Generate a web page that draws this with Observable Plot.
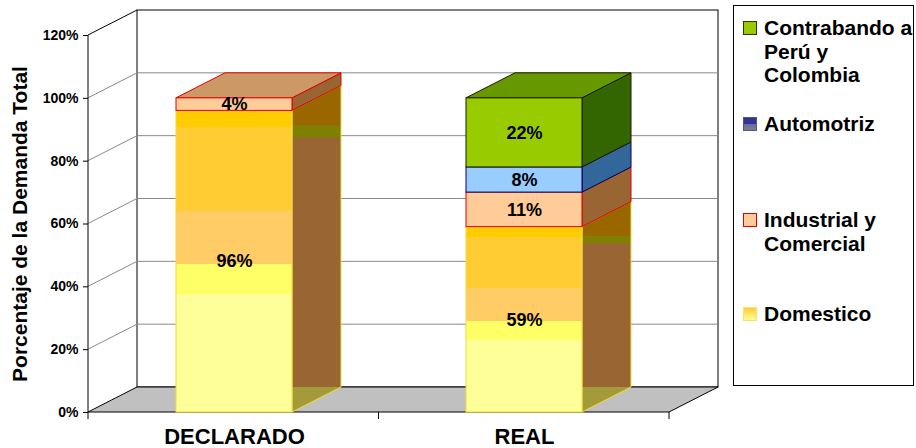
<!DOCTYPE html>
<html>
<head>
<meta charset="utf-8">
<script src="https://cdn.jsdelivr.net/npm/d3@7"></script>
<script src="https://cdn.jsdelivr.net/npm/@observablehq/plot@0.6"></script>
<style>
  html, body { margin: 0; padding: 0; background: #fff; }
  #chart svg { display: block; }
</style>
</head>
<body>
<div id="chart"></div>
<script>
// ---- data ----
const categories = ["DECLARADO", "REAL"];
const series = ["Domestico", "Industrial y Comercial", "Automotriz", "Contrabando a Perú y Colombia"];
const declaradoValues = [96, 4, 0, 0];
const realValues = [59, 11, 8, 22];
const yTicks = [0, 20, 40, 60, 80, 100, 120];
const legendLabels = {
  "Contrabando a Perú y Colombia": ["Contrabando a", "Perú y", "Colombia"],
  "Automotriz": ["Automotriz"],
  "Industrial y Comercial": ["Industrial y", "Comercial"],
  "Domestico": ["Domestico"]
};
const yTitle = "Porcentaje de la Demanda Total";

// ---- styles ----
const DX = 49, DY = -25;
const FONT = "'Liberation Sans', Arial, Helvetica, sans-serif";
const frontFill = {
  "Domestico": "url(#gradDom)",
  "Industrial y Comercial": "#FFCC99",
  "Automotriz": "#99CCFF",
  "Contrabando a Perú y Colombia": "#99CC00"
};
const frontStroke = {
  "Domestico": "#F0DC3C",
  "Industrial y Comercial": "#E00000",
  "Automotriz": "#000066",
  "Contrabando a Perú y Colombia": "#1A1A00"
};
const sideFill = {
  "Domestico": "#996633",
  "Industrial y Comercial": "#996633",
  "Automotriz": "#336699",
  "Contrabando a Perú y Colombia": "#336600"
};
const topFill = {
  "Domestico": "#CCAA44",
  "Industrial y Comercial": "#CC9966",
  "Automotriz": "#6699CC",
  "Contrabando a Perú y Colombia": "#669900"
};

// ---- stacked rows ----
const valuesByCat = {DECLARADO: declaradoValues, REAL: realValues};
const rows = [];
for (const cat of categories) {
  let acc = 0;
  series.forEach((s, i) => {
    const v = valuesByCat[cat][i];
    if (v > 0) { rows.push({cat, series: s, value: v, y1: acc, y2: acc + v}); acc += v; }
  });
}

// ---- 3D walls, floor, grid ----
function walls(index, scales, values, dim) {
  const {marginLeft, marginRight, width} = dim;
  const y = scales.y;
  const x0 = marginLeft, x1 = width - marginRight;
  const yb = y(yTicks[0]), yt = y(yTicks[yTicks.length - 1]);
  const g = d3.create("svg:g");
  g.append("path")
    .attr("d", `M${x0},${yb}L${x0},${yt}L${x0 + DX},${yt + DY}L${x0 + DX},${yb + DY}Z`)
    .attr("fill", "#fff");
  g.append("rect")
    .attr("x", x0 + DX).attr("y", yt + DY).attr("width", x1 - x0).attr("height", yb - yt)
    .attr("fill", "#fff").attr("stroke", "#000");
  g.append("path")
    .attr("d", `M${x0},${yb}L${x1},${yb}L${x1 + DX},${yb + DY}L${x0 + DX},${yb + DY}Z`)
    .attr("fill", "#C0C0C0").attr("stroke", "#000");
  for (const t of yTicks.slice(1, -1)) {
    const yy = y(t);
    g.append("line").attr("x1", x0 + DX).attr("x2", x1 + DX).attr("y1", yy + DY).attr("y2", yy + DY)
      .attr("stroke", "#8a8a8a");
    g.append("line").attr("x1", x0).attr("x2", x0 + DX).attr("y1", yy).attr("y2", yy + DY)
      .attr("stroke", "#8a8a8a");
  }
  g.append("line").attr("x1", x0).attr("x2", x0 + DX).attr("y1", yt).attr("y2", yt + DY).attr("stroke", "#000");
  g.append("line").attr("x1", x0).attr("x2", x0).attr("y1", yt).attr("y2", yb).attr("stroke", "#000");
  const step = (x1 - x0) / categories.length;
  for (let i = 0; i <= categories.length; i++) {
    const xx = x0 + i * step;
    g.append("line").attr("x1", xx).attr("x2", xx).attr("y1", yb).attr("y2", yb + 7).attr("stroke", "#000");
  }
  return g.node();
}

// ---- side and top faces ----
function sides(index, scales, values, dim) {
  const x = scales.x, y = scales.y;
  const bw = typeof x.bandwidth === "function" ? x.bandwidth() : scales.scales.x.bandwidth;
  const g = d3.create("svg:g");
  const defs = g.append("defs");
  const grad = defs.append("linearGradient").attr("id", "gradDom")
    .attr("x1", 0).attr("y1", 1).attr("x2", 0).attr("y2", 0);
  const stops = [[0, "#FFFF99"], [0.39, "#FFFF99"], [0.39, "#FFFF66"], [0.49, "#FFFF66"],
                 [0.49, "#FFCC66"], [0.667, "#FFCC66"], [0.667, "#FFCC33"], [0.945, "#FFCC33"],
                 [0.945, "#FFCC00"], [1, "#FFCC00"]];
  for (const [o, c] of stops) grad.append("stop").attr("offset", o).attr("stop-color", c);
  const lg = defs.append("linearGradient").attr("id", "gradLegDom")
    .attr("x1", 0).attr("y1", 0).attr("x2", 0).attr("y2", 1);
  lg.append("stop").attr("offset", 0).attr("stop-color", "#FFCC33");
  lg.append("stop").attr("offset", 1).attr("stop-color", "#FFFF99");
  const la = defs.append("linearGradient").attr("id", "gradLegAuto")
    .attr("x1", 0).attr("y1", 0).attr("x2", 0).attr("y2", 1);
  la.append("stop").attr("offset", 0).attr("stop-color", "#2B3399");
  la.append("stop").attr("offset", 0.5).attr("stop-color", "#333399");
  la.append("stop").attr("offset", 0.5).attr("stop-color", "#666B99");
  la.append("stop").attr("offset", 1).attr("stop-color", "#7A809A");

  const floorY = y(0) + DY;
  rows.forEach((r, i) => {
    const xr = x(r.cat) + bw, yt = y(r.y2), yb = y(r.y1);
    const d = `M${xr},${yt}L${xr + DX},${yt + DY}L${xr + DX},${yb + DY}L${xr},${yb}Z`;
    if (r.series === "Domestico") {
      const cid = "clipSide" + i;
      defs.append("clipPath").attr("id", cid).append("path").attr("d", d);
      const cg = g.append("g").attr("clip-path", `url(#${cid})`);
      cg.append("path").attr("d", d).attr("fill", sideFill[r.series]);
      const yDark = y(r.y1 + 0.95 * r.value), yOlive = y(r.y1 + 0.91 * r.value);
      cg.append("rect").attr("x", xr).attr("width", DX).attr("y", yt + DY).attr("height", yDark - (yt + DY)).attr("fill", "#996600");
      cg.append("rect").attr("x", xr).attr("width", DX).attr("y", yDark).attr("height", yOlive - yDark).attr("fill", "#808000");
      cg.append("rect").attr("x", xr).attr("width", DX).attr("y", floorY).attr("height", yb - floorY).attr("fill", "#A39A3A");
      g.append("path").attr("d", d).attr("fill", "none").attr("stroke", frontStroke[r.series]);
    } else {
      g.append("path").attr("d", d).attr("fill", sideFill[r.series]).attr("stroke", frontStroke[r.series]);
    }
  });
  for (const cat of categories) {
    const catRows = rows.filter(r => r.cat === cat);
    const top = catRows[catRows.length - 1];
    const xl = x(cat), xr = xl + bw, yt = y(top.y2);
    g.append("path")
      .attr("d", `M${xl},${yt}L${xl + DX},${yt + DY}L${xr + DX},${yt + DY}L${xr},${yt}Z`)
      .attr("fill", topFill[top.series]).attr("stroke", frontStroke[top.series]);
  }
  return g.node();
}

// ---- legend ----
function legend(index, scales, values, dim) {
  const g = d3.create("svg:g").attr("font-family", FONT).attr("font-weight", "bold")
    .attr("text-anchor", "start");
  g.append("rect").attr("x", 733.5).attr("y", 5.5).attr("width", 180).attr("height", 380)
    .attr("fill", "#fff").attr("stroke", "#000");
  const order = series.slice().reverse();
  const tops = [21, 117, 213, 307];
  const swatchFill = {
    "Contrabando a Perú y Colombia": "#99CC00",
    "Automotriz": "url(#gradLegAuto)",
    "Industrial y Comercial": "#FFCC99",
    "Domestico": "url(#gradLegDom)"
  };
  const swatchStroke = {
    "Contrabando a Perú y Colombia": "#333300",
    "Automotriz": "#555577",
    "Industrial y Comercial": "#E00000",
    "Domestico": "#FFE066"
  };
  order.forEach((s, i) => {
    const t = tops[i];
    g.append("rect").attr("x", 743.5).attr("y", t + 0.5).attr("width", 13).attr("height", 13)
      .attr("fill", swatchFill[s]).attr("stroke", swatchStroke[s]);
    legendLabels[s].forEach((line, k) => {
      g.append("text").attr("x", 764).attr("y", t + 14 + k * 23.5)
        .attr("text-anchor", "start")
        .attr("font-size", 21).attr("fill", "#000").text(line);
    });
  });
  return g.node();
}

const marks = [walls, sides];
for (const s of series) {
  marks.push(Plot.barY(rows.filter(r => r.series === s), {
    x: "cat", y1: "y1", y2: "y2",
    fill: frontFill[s], stroke: frontStroke[s], strokeWidth: 1
  }));
}
marks.push(
  Plot.text(rows, {
    x: "cat", y: d => (d.y1 + d.y2) / 2, text: d => `${d.value}%`,
    fontSize: 18, fontWeight: "bold", fill: "#000"
  }),
  Plot.text(categories, {
    x: d => d, text: d => d, frameAnchor: "bottom", lineAnchor: "top", dy: 16,
    fontSize: 22, fontWeight: "bold", fill: "#000"
  }),
  Plot.text([yTitle], {
    text: d => d, frameAnchor: "left", textAnchor: "middle", lineAnchor: "middle",
    dx: -68, rotate: -90,
    fontSize: 21, fontWeight: "bold", fill: "#000"
  }),
  legend
);

const chart = Plot.plot({
  width: 916,
  height: 448,
  marginLeft: 88,
  marginRight: 247,
  marginTop: 35,
  marginBottom: 36,
  style: {fontFamily: FONT, fontSize: "14px", fontWeight: "bold", color: "#000", background: "#fff", overflow: "visible"},
  x: {domain: categories, paddingInner: 0.6, paddingOuter: 0.3, axis: null},
  y: {domain: [0, 120], ticks: yTicks, tickFormat: d => `${d}%`, tickSize: 5, tickPadding: 5, label: null},
  marks
});
document.getElementById("chart").appendChild(chart);
</script>
</body>
</html>
